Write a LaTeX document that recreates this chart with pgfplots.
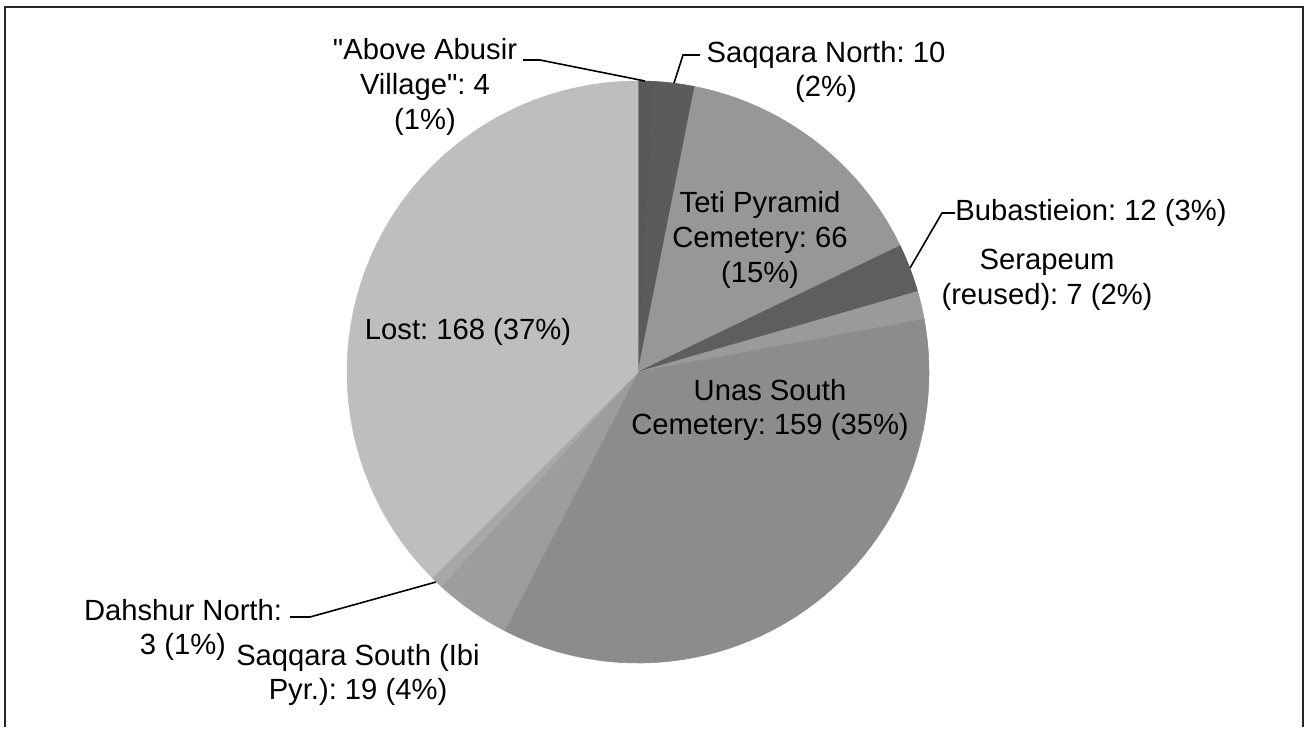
\documentclass[border=0pt]{standalone}
\usepackage{pgfplots}
\usepackage{pgfplotstable}
\pgfplotsset{compat=1.18}
\usepackage{fontspec}
\setmainfont{Liberation Sans}
\frenchspacing

\definecolor{slice0}{HTML}{585858}
\definecolor{slice1}{HTML}{5B5B5B}
\definecolor{slice2}{HTML}{979797}
\definecolor{slice3}{HTML}{5E5E5E}
\definecolor{slice4}{HTML}{9A9A9A}
\definecolor{slice5}{HTML}{8C8C8C}
\definecolor{slice6}{HTML}{9D9D9D}
\definecolor{slice7}{HTML}{A8A8A8}
\definecolor{slice8}{HTML}{BEBEBE}

% counts, clockwise from 12 o'clock
\pgfplotstableread{
name value
AboveAbusirVillage 4
SaqqaraNorth 10
TetiPyramidCemetery 66
Bubastieion 12
SerapeumReused 7
UnasSouthCemetery 159
SaqqaraSouthIbiPyr 19
DahshurNorth 3
Lost 168
}\piedata
\pgfplotstablecreatecol[create col/expr accum={\pgfmathaccuma + \thisrow{value}}{0}]{cum}\piedata

\newcommand{\lbl}{\fontsize{14.6}{17.3}\selectfont}

\begin{document}
\begin{tikzpicture}
\begin{axis}[
  hide axis, scale only axis,
  width=652.5pt, height=363.5pt,
  xmin=0, xmax=1305, ymin=0, ymax=727,
  y dir=reverse, clip=false,
]
\path (axis cs:0,0) rectangle (axis cs:1305,727);
\pgfplotstablegetelem{8}{cum}\of\piedata
\edef\total{\pgfplotsretval}
\pgfplotsinvokeforeach{0,...,8}{
  \pgfplotstablegetelem{#1}{cum}\of\piedata
  \edef\cEnd{\pgfplotsretval}
  \pgfplotstablegetelem{#1}{value}\of\piedata
  \edef\cVal{\pgfplotsretval}
  \pgfmathsetmacro\cStart{\cEnd-\cVal}
  \edef\doplot{\noexpand\addplot[fill=slice#1, draw=slice#1, line width=0.3pt,
     domain=\cStart:\cEnd, samples=60, variable=\noexpand\t]
     ({638+291*sin(\noexpand\t*360/\total)}, {372-291*cos(\noexpand\t*360/\total)})
     -- (axis cs:638,372) -- cycle;}
  \doplot
}
% frame
\draw[line width=1pt, black!85] (axis cs:5,727) -- (axis cs:5,7) -- (axis cs:1303,7) -- (axis cs:1303,727);
% leader lines
\draw[line width=0.8pt] (axis cs:523,60) -- (axis cs:540,60) -- (axis cs:645,81);
\draw[line width=0.8pt] (axis cs:700,55) -- (axis cs:683,55) -- (axis cs:674,83);
\draw[line width=0.8pt] (axis cs:955,213) -- (axis cs:942,213) -- (axis cs:910,268);
\draw[line width=0.8pt] (axis cs:290,617) -- (axis cs:310,617) -- (axis cs:436,582);
% labels
\node[align=center, font=\lbl] at (axis cs:425,87) {\textquotedbl Above Abusir\\Village\textquotedbl: 4\\(1\%)};
\node[align=center, font=\lbl] at (axis cs:826,72) {Saqqara North: 10\\(2\%)};
\node[align=center, font=\lbl] at (axis cs:760,240) {Teti Pyramid\\Cemetery: 66\\(15\%)};
\node[align=center, font=\lbl] at (axis cs:1091,213) {Bubastieion: 12 (3\%)};
\node[align=center, font=\lbl] at (axis cs:1047,280) {Serapeum\\(reused): 7 (2\%)};
\node[align=center, font=\lbl] at (axis cs:770,410) {Unas South\\Cemetery: 159 (35\%)};
\node[align=center, font=\lbl] at (axis cs:468,332) {Lost: 168 (37\%)};
\node[align=center, font=\lbl] at (axis cs:183,630) {Dahshur North:\\3 (1\%)};
\node[align=center, font=\lbl] at (axis cs:358,675) {Saqqara South (Ibi\\Pyr.): 19 (4\%)};
\end{axis}
\end{tikzpicture}
\end{document}
